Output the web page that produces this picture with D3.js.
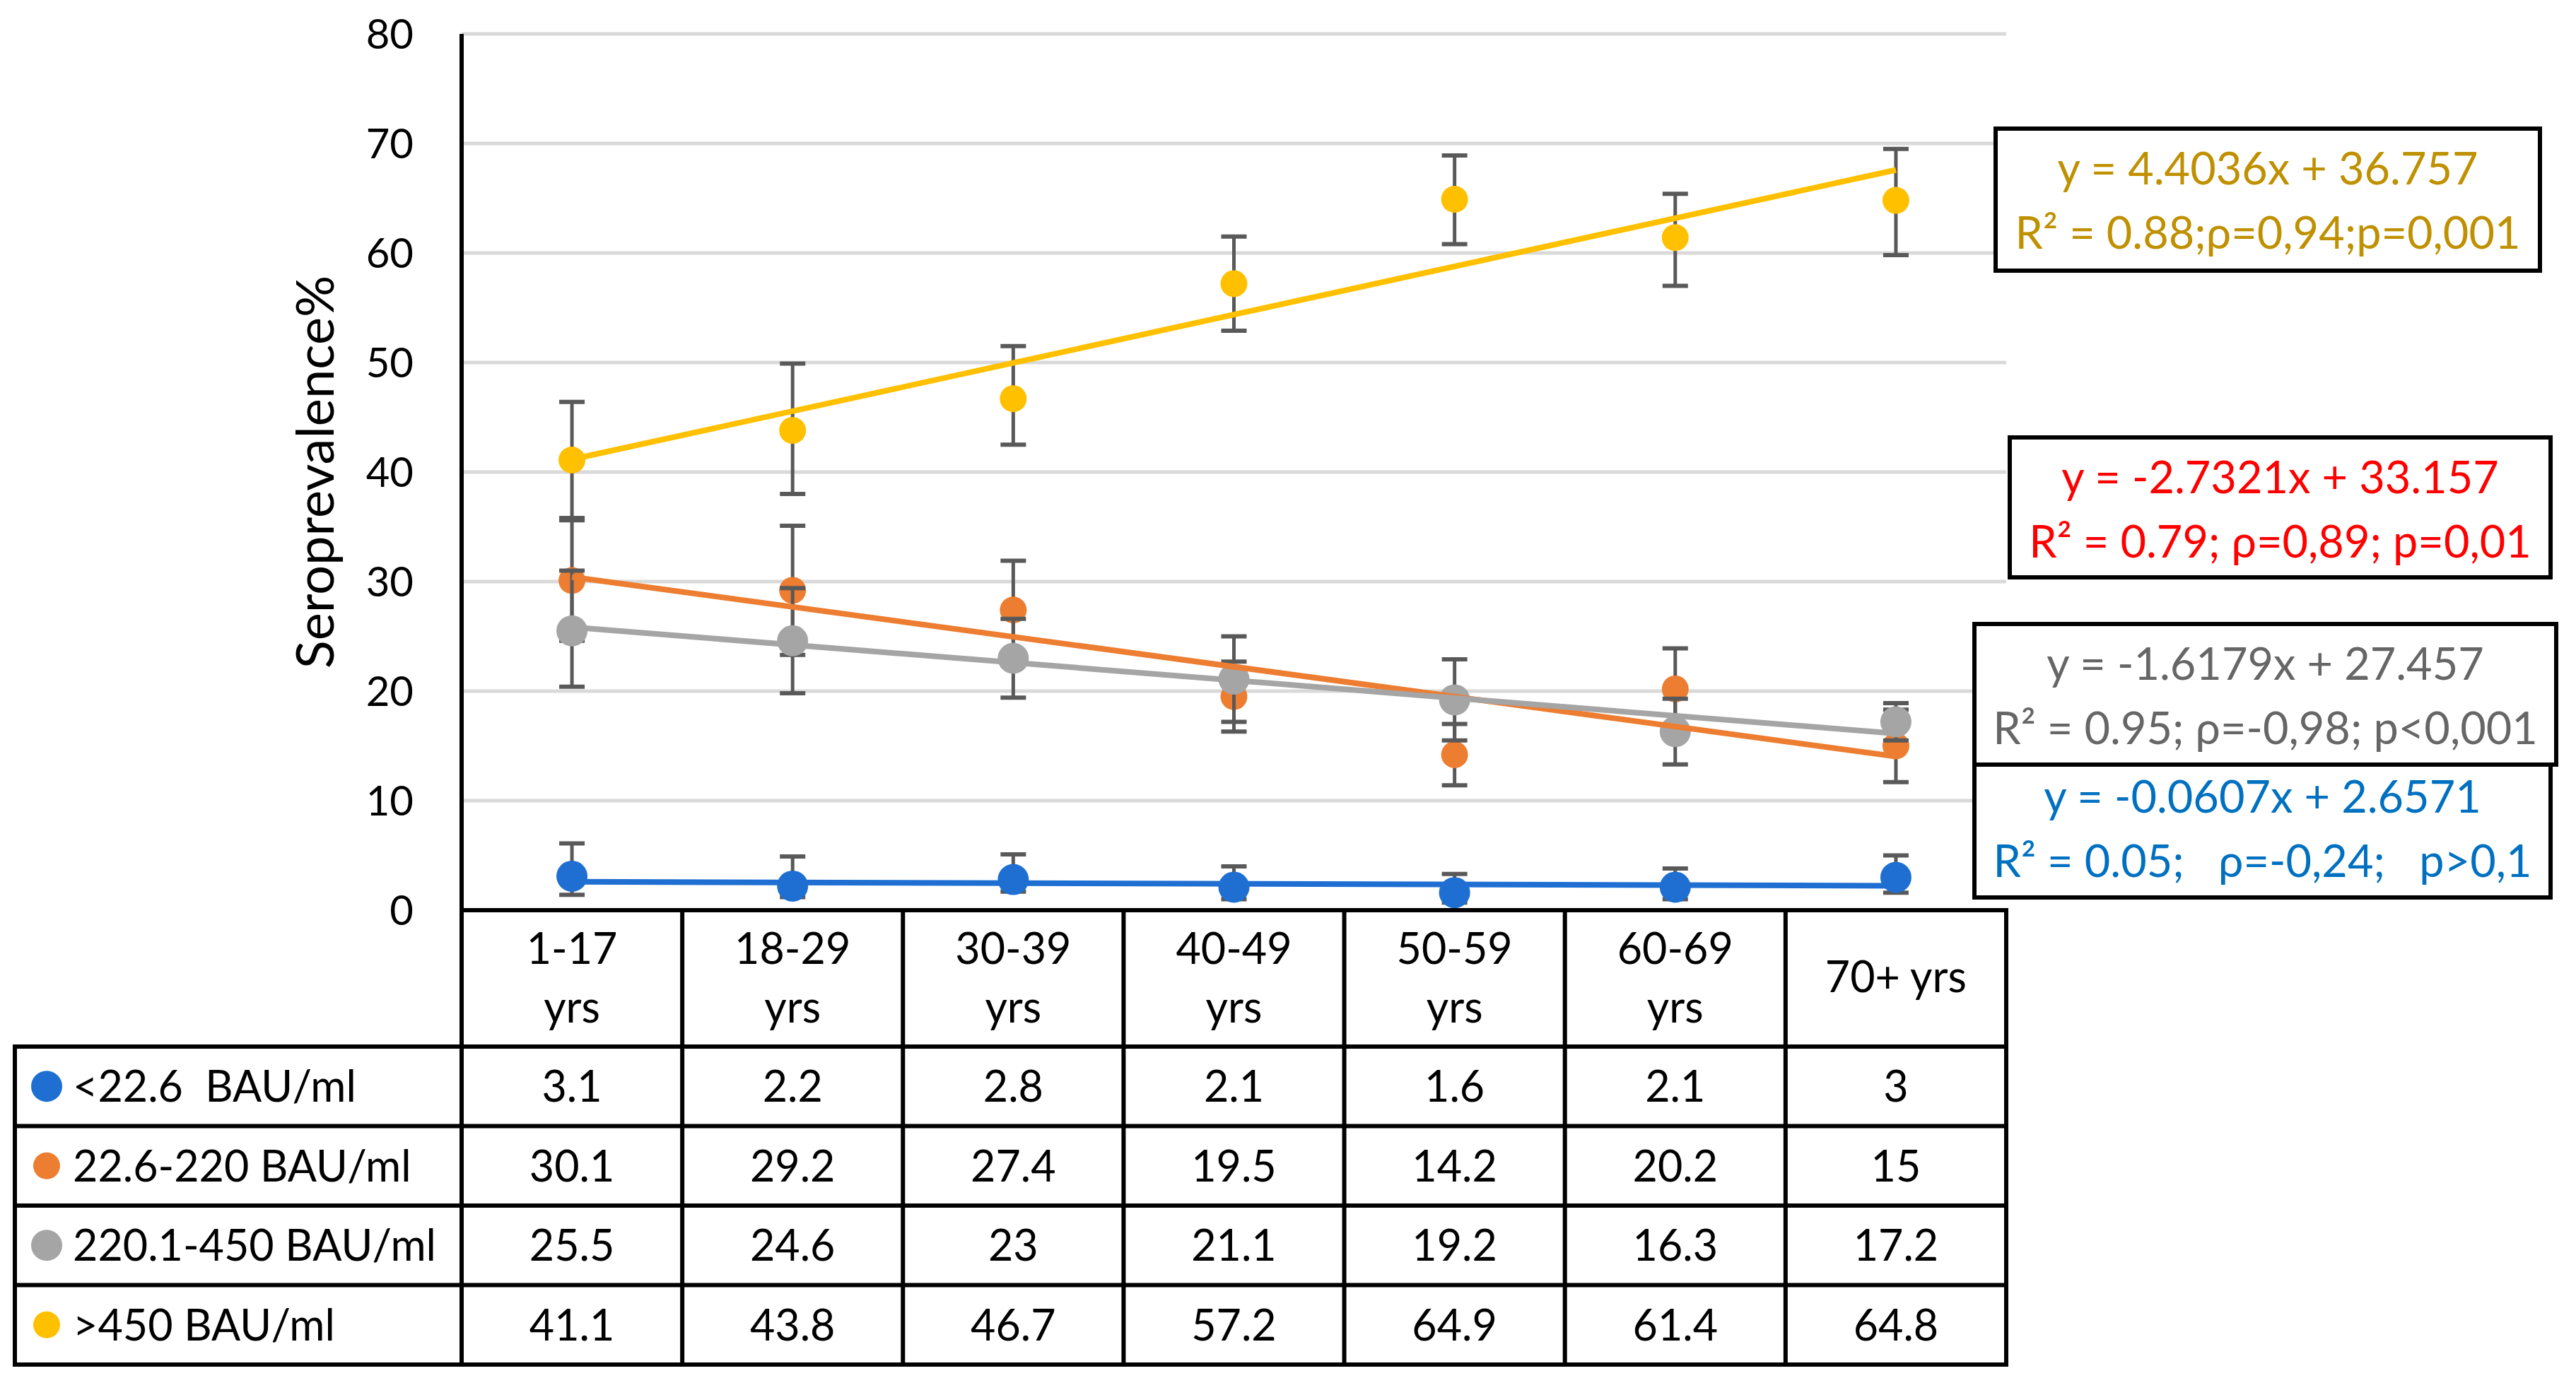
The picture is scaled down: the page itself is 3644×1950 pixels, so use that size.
<!DOCTYPE html>
<html>
<head>
<meta charset="utf-8">
<script src="https://cdn.jsdelivr.net/npm/d3@7"></script>
<style>
  html, body { margin: 0; padding: 0; background: #fff; }
  svg { display: block; }
  text { font-family: Lato, "Open Sans", sans-serif; white-space: pre; }
</style>
</head>
<body>
<script>
// ---------------- DATA ----------------
const categories = ["1-17 yrs", "18-29 yrs", "30-39 yrs", "40-49 yrs", "50-59 yrs", "60-69 yrs", "70+ yrs"];
const seriesNames = ["<22.6  BAU/ml", "22.6-220 BAU/ml", "220.1-450 BAU/ml", ">450 BAU/ml"];
const yTicks = [0, 10, 20, 30, 40, 50, 60, 70, 80];
const yTitle = "Seroprevalence%";

const valuesLow    = [3.1, 2.2, 2.8, 2.1, 1.6, 2.1, 3];
const valuesMid    = [30.1, 29.2, 27.4, 19.5, 14.2, 20.2, 15];
const valuesHigh   = [25.5, 24.6, 23, 21.1, 19.2, 16.3, 17.2];
const valuesTop    = [41.1, 43.8, 46.7, 57.2, 64.9, 61.4, 64.8];

// error bar bounds
const ciLowLow   = [1.4, 1.2, 1.7, 1.0, 0.7, 1.0, 1.6];
const ciLowHigh  = [6.1, 4.9, 5.1, 4.0, 3.3, 3.8, 5.0];
const ciMidLow   = [24.6, 23.3, 22.9, 16.3, 11.4, 16.5, 11.7];
const ciMidHigh  = [35.6, 35.1, 31.9, 22.7, 17.0, 23.9, 18.3];
const ciHighLow  = [20.4, 19.8, 19.4, 17.2, 15.5, 13.3, 15.5];
const ciHighHigh = [31.0, 29.4, 26.6, 25.0, 22.9, 19.3, 18.9];
const ciTopLow   = [35.8, 38.0, 42.5, 52.9, 60.8, 57.0, 59.8];
const ciTopHigh  = [46.4, 49.9, 51.5, 61.5, 68.9, 65.4, 69.5];

// linear trend (slope, intercept), x = 1..7
const trendSlope     = [-0.0607, -2.7321, -1.6179, 4.4036];
const trendIntercept = [2.6571, 33.157, 27.457, 36.757];
const trendLine1 = ["y = -0.0607x + 2.6571", "y = -2.7321x + 33.157", "y = -1.6179x + 27.457", "y = 4.4036x + 36.757"];
const trendLine2 = ["R\u00B2 = 0.05;   \u03C1=-0,24;   p>0,1", "R\u00B2 = 0.79; \u03C1=0,89; p=0,01", "R\u00B2 = 0.95; \u03C1=-0,98; p<0,001", "R\u00B2 = 0.88;\u03C1=0,94;p=0,001"];

// ---------------- STYLE / LAYOUT ----------------
const W = 3644, H = 1950;
const colors = ["#1F6FD2", "#ED7D31", "#A5A5A5", "#FFC000"];
const textColors = ["#0070C0", "#FF0000", "#666666", "#BF9000"];
const markerR = [22, 19, 22, 19];
const TICK_FONT = 58, TABLE_FONT = 61, EQ_FONT = 63, TITLE_FONT = 74;

const plotLeft = 653, plotRight = 2838, plotTop = 48, plotBottom = 1288;
const tableLeft = 21;
const headerBottom = 1481;
const rowH = 112.5;

const series = [
  {name: seriesNames[0], values: valuesLow,  lo: ciLowLow,  hi: ciLowHigh},
  {name: seriesNames[1], values: valuesMid,  lo: ciMidLow,  hi: ciMidHigh},
  {name: seriesNames[2], values: valuesHigh, lo: ciHighLow, hi: ciHighHigh},
  {name: seriesNames[3], values: valuesTop,  lo: ciTopLow,  hi: ciTopHigh}
];

const svg = d3.select("body").append("svg").attr("width", W).attr("height", H);

const xBand = d3.scaleBand().domain(categories).range([plotLeft, plotRight]).padding(0);
const xc = c => xBand(c) + xBand.bandwidth() / 2;
const y = d3.scaleLinear().domain([0, 80]).range([plotBottom, plotTop]);
const xTrend = d3.scaleLinear().domain([1, categories.length]).range([xc(categories[0]), xc(categories[categories.length - 1])]);

// gridlines
svg.append("g").selectAll("line").data(yTicks.filter(t => t > 0)).join("line")
  .attr("x1", plotLeft).attr("x2", plotRight)
  .attr("y1", d => y(d)).attr("y2", d => y(d))
  .attr("stroke", "#D9D9D9").attr("stroke-width", 5);

// y axis
const yAxis = d3.axisLeft(y).tickValues(yTicks).tickSize(0).tickPadding(68);
const ga = svg.append("g").attr("transform", `translate(${plotLeft},0)`).call(yAxis);
ga.select(".domain").remove();
ga.selectAll("text").attr("font-size", TICK_FONT).attr("fill", "#000").attr("font-family", "Lato, sans-serif").attr("dy", "0.35em");

svg.append("text").attr("transform", `translate(472,668) rotate(-90)`)
  .attr("text-anchor", "middle").attr("font-size", TITLE_FONT).attr("fill", "#000").text(yTitle);

// error bars + markers
series.forEach((s, si) => {
  const g = svg.append("g");
  g.selectAll("line.stem").data(categories).join("line").attr("class", "stem")
    .attr("x1", c => xc(c)).attr("x2", c => xc(c))
    .attr("y1", (c, i) => y(s.lo[i])).attr("y2", (c, i) => y(s.hi[i]))
    .attr("stroke", "#595959").attr("stroke-width", 5);
  ["lo", "hi"].forEach(k => {
    g.selectAll("line.cap" + k).data(categories).join("line").attr("class", "cap" + k)
      .attr("x1", c => xc(c) - 18).attr("x2", c => xc(c) + 18)
      .attr("y1", (c, i) => y(s[k][i])).attr("y2", (c, i) => y(s[k][i]))
      .attr("stroke", "#595959").attr("stroke-width", 6);
  });
  g.selectAll("circle").data(categories).join("circle")
    .attr("cx", c => xc(c)).attr("cy", (c, i) => y(s.values[i]))
    .attr("r", markerR[si]).attr("fill", colors[si]);
});

// trend lines
series.forEach((s, si) => {
  const xs = [1, categories.length];
  svg.append("line")
    .attr("x1", xTrend(xs[0])).attr("y1", y(trendSlope[si] * xs[0] + trendIntercept[si]))
    .attr("x2", xTrend(xs[1])).attr("y2", y(trendSlope[si] * xs[1] + trendIntercept[si]))
    .attr("stroke", colors[si]).attr("stroke-width", 8).attr("stroke-linecap", "butt");
});

// trend equation boxes
const boxes = [
  {x: 2793, y: 1071, w: 815, h: 199},
  {x: 2843, y: 619, w: 765, h: 198},
  {x: 2793, y: 883, w: 823, h: 199},
  {x: 2823, y: 182, w: 770, h: 201}
];
boxes.forEach((b, i) => {
  const g = svg.append("g");
  g.append("rect").attr("x", b.x).attr("y", b.y).attr("width", b.w).attr("height", b.h)
    .attr("fill", "#fff").attr("stroke", "#000").attr("stroke-width", 6);
  g.append("text").attr("x", b.x + b.w / 2).attr("y", b.y + 79).attr("text-anchor", "middle")
    .attr("font-size", EQ_FONT).attr("fill", textColors[i]).text(trendLine1[i]);
  g.append("text").attr("x", b.x + b.w / 2).attr("y", b.y + 170).attr("text-anchor", "middle")
    .attr("font-size", EQ_FONT).attr("fill", textColors[i]).text(trendLine2[i]);
});

// ---------------- TABLE ----------------
const tg = svg.append("g");
const rowTops = d3.range(series.length + 1).map(i => headerBottom + i * rowH);
const tableBottom = rowTops[rowTops.length - 1];

categories.forEach((c, i) => {
  const cx = xc(c);
  const lines = (i === categories.length - 1) ? [c] : c.split(" ");
  if (lines.length === 1) {
    tg.append("text").attr("x", cx).attr("y", 1404).attr("text-anchor", "middle")
      .attr("font-size", TABLE_FONT).attr("fill", "#000").text(lines[0]);
  } else {
    tg.append("text").attr("x", cx).attr("y", 1364).attr("text-anchor", "middle")
      .attr("font-size", TABLE_FONT).attr("fill", "#000").text(lines[0]);
    tg.append("text").attr("x", cx).attr("y", 1447).attr("text-anchor", "middle")
      .attr("font-size", TABLE_FONT).attr("fill", "#000").text(lines[1]);
  }
});

series.forEach((s, si) => {
  const cy = rowTops[si] + rowH / 2;
  tg.append("circle").attr("cx", 66).attr("cy", cy).attr("r", markerR[si]).attr("fill", colors[si]);
  tg.append("text").attr("x", 103).attr("y", cy + 22).attr("font-size", TABLE_FONT).attr("fill", "#000").text(s.name);
  categories.forEach((c, i) => {
    tg.append("text").attr("x", xc(c)).attr("y", cy + 22).attr("text-anchor", "middle")
      .attr("font-size", TABLE_FONT).attr("fill", "#000").text(String(s.values[i]));
  });
});

const lw = 6;
tg.append("line").attr("x1", plotLeft).attr("x2", plotRight + 3).attr("y1", plotBottom).attr("y2", plotBottom)
  .attr("stroke", "#000").attr("stroke-width", lw);
rowTops.forEach(ry => {
  tg.append("line").attr("x1", tableLeft - 3).attr("x2", plotRight + 3).attr("y1", ry).attr("y2", ry)
    .attr("stroke", "#000").attr("stroke-width", lw);
});
tg.append("line").attr("x1", tableLeft).attr("x2", tableLeft).attr("y1", headerBottom).attr("y2", tableBottom)
  .attr("stroke", "#000").attr("stroke-width", lw);
tg.append("line").attr("x1", plotLeft).attr("x2", plotLeft).attr("y1", plotTop).attr("y2", tableBottom + 3)
  .attr("stroke", "#000").attr("stroke-width", lw);
categories.forEach(c => {
  const xr = xBand(c) + xBand.bandwidth();
  tg.append("line").attr("x1", xr).attr("x2", xr).attr("y1", plotBottom).attr("y2", tableBottom + 3)
    .attr("stroke", "#000").attr("stroke-width", lw);
});
</script>
</body>
</html>
